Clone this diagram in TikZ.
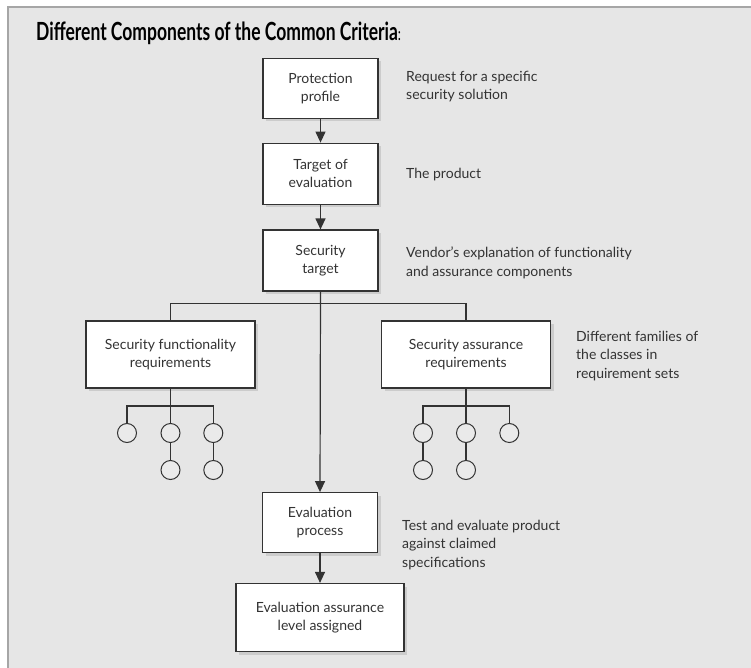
\documentclass[tikz,border=0pt]{standalone}
\usepackage{fontspec}
\setmainfont{Lato}
\usetikzlibrary{arrows.meta,shadows}
\definecolor{panel}{HTML}{E6E6E6}
\definecolor{frame}{HTML}{A6A6A6}
\definecolor{ink}{HTML}{333333}
\definecolor{bubble}{HTML}{EAEAEA}
\begin{document}
\begin{tikzpicture}[x=1pt,y=-1pt,
  every node/.style={font=\fontsize{14}{18.3}\selectfont, text=ink},
  block/.style={draw=ink, line width=1.2pt, fill=white, align=center,
    inner sep=0pt,
    drop shadow={shadow xshift=3pt, shadow yshift=-3pt, fill=black!20, opacity=1}},
  note/.style={anchor=base west, align=left, inner sep=0pt},
  wire/.style={draw=ink, line width=1.2pt},
  flow/.style={wire, -{Triangle[width=10pt,length=11pt]}},
  leaf/.style={circle, draw=ink, line width=1pt, fill=bubble,
    minimum size=19pt, inner sep=0pt}]

% panel with its frame on top and left
\useasboundingbox (0,0) rectangle (751,668);
\fill[white] (0,0) rectangle (751,668);
\fill[panel] (8,7) rectangle (751,668);
\draw[frame, line width=2pt] (8,668) -- (8,7) -- (751,7);

% title
\node[anchor=base west, inner sep=0pt, text=black] (title) at (36,40.7)
  {\scalebox{0.70}[1]{\fontsize{25}{28}\selectfont\bfseries Different Components of the Common Criteria{\mdseries\fontsize{18}{20}\selectfont:}}};

% main chain of boxes
\node[block, minimum width=115pt, minimum height=60pt] (pp)  at (320.5,88.5)  {Protection\\profile};
\node[block, minimum width=115pt, minimum height=61pt] (toe) at (320.5,173.7) {Target of\\evaluation};
\node[block, minimum width=115pt, minimum height=61pt] (st)  at (320.5,260.5) {Security\\target};
\node[block, minimum width=169pt, minimum height=67pt] (sfr) at (170.5,354.5) {Security functionality\\requirements};
\node[block, minimum width=169pt, minimum height=67pt] (sar) at (466,354.5)   {Security assurance\\requirements};
\node[block, minimum width=115pt, minimum height=60pt] (ep)  at (320,522.7)   {Evaluation\\process};
\node[block, minimum width=168pt, minimum height=68pt] (eal) at (320,617.5)   {Evaluation assurance\\level assigned};

% notes beside the boxes (placed by the baseline of their last line)
\node[note] (npp)  at (406,100)   {Request for a specific\\security solution};
\node[note] (ntoe) at (406,179)   {The product};
\node[note] (nst)  at (406,276)   {Vendor's explanation of functionality\\and assurance components};
\node[note] (nreq) at (576,378)   {Different families of\\the classes in\\requirement sets};
\node[note] (nep)  at (402,567)   {Test and evaluate product\\against claimed\\specifications};

% arrows down the chain
\draw[flow] (pp.south) -- (toe.north);
\draw[flow] (toe.south) -- (st.north);
\coordinate (split) at (st.south |- 0,303.3);
\draw[flow] (st.south) -- (ep.north);
\draw[flow] (ep.south) -- (eal.north);

% branch to the two requirement boxes
\draw[wire] (sfr.north) |- (split) -| (sar.north);

% functionality requirement families
\node[leaf] (f1) at (127,433) {};
\node[leaf] (f2) at (170.5,433) {};
\node[leaf] (f3) at (213.3,433) {};
\node[leaf] (f4) at (170.5,470) {};
\node[leaf] (f5) at (213.3,470) {};
\coordinate (fj) at (170.5,406);
\draw[wire] (sfr.south) -- (fj);
\draw[wire] (f1.north) |- (fj) -| (f3.north);
\draw[wire] (fj) -- (f2.north);
\draw[wire] (f2.south) -- (f4.north);
\draw[wire] (f3.south) -- (f5.north);

% assurance requirement families
\node[leaf] (a1) at (423,433) {};
\node[leaf] (a2) at (466,433) {};
\node[leaf] (a3) at (509.3,433) {};
\node[leaf] (a4) at (423,470) {};
\node[leaf] (a5) at (466,470) {};
\coordinate (aj) at (466,406);
\draw[wire] (sar.south) -- (aj);
\draw[wire] (a1.north) |- (aj) -| (a3.north);
\draw[wire] (aj) -- (a2.north);
\draw[wire] (a1.south) -- (a4.north);
\draw[wire] (a2.south) -- (a5.north);
\end{tikzpicture}
\end{document}
